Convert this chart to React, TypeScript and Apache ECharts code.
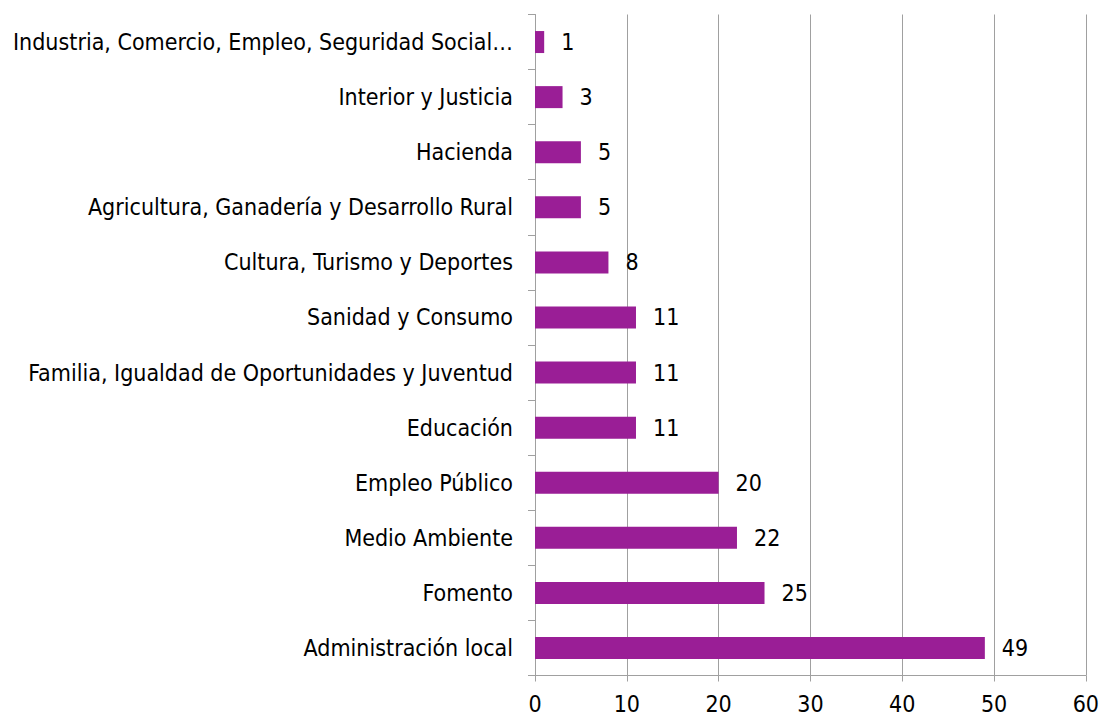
import React, { useEffect, useRef } from "react";
import * as echarts from "echarts";

const categories = [
  "Administración local",
  "Fomento",
  "Medio Ambiente",
  "Empleo Público",
  "Educación",
  "Familia, Igualdad de Oportunidades y Juventud",
  "Sanidad y Consumo",
  "Cultura, Turismo y Deportes",
  "Agricultura, Ganadería y Desarrollo Rural",
  "Hacienda",
  "Interior y Justicia",
  "Industria, Comercio, Empleo, Seguridad Social…",
];
const values = [49, 25, 22, 20, 11, 11, 11, 8, 5, 5, 3, 1];

const FONT = "DejaVu Sans Condensed";
const FS = 23;

export default function App() {
  const ref = useRef<HTMLDivElement>(null);
  useEffect(() => {
    const chart = echarts.init(ref.current!, null, { renderer: "svg" });
    chart.setOption({
      animation: false,
      grid: { left: 535, right: 16, top: 14.5, bottom: 42.5, containLabel: false },
      xAxis: {
        type: "value",
        min: 0,
        max: 60,
        interval: 10,
        axisLine: { show: true, lineStyle: { color: "#a0a0a0", width: 1 } },
        axisTick: { show: true, length: 6, lineStyle: { color: "#a0a0a0" } },
        splitLine: { show: true, lineStyle: { color: "#a0a0a0", width: 1 } },
        axisLabel: { color: "#000", fontFamily: FONT, fontSize: FS, margin: 17 },
      },
      yAxis: {
        type: "category",
        data: categories,
        axisLine: { show: true, lineStyle: { color: "#a0a0a0", width: 1 } },
        axisTick: { show: true, length: 7, alignWithLabel: false, lineStyle: { color: "#a0a0a0" } },
        axisLabel: { color: "#000", fontFamily: FONT, fontSize: FS, margin: 22 },
      },
      series: [
        {
          type: "bar",
          data: values,
          barWidth: 22,
          itemStyle: { color: "#9a1e96" },
          label: {
            show: true,
            position: "right",
            distance: 17,
            color: "#000",
            fontFamily: FONT,
            fontSize: FS,
          },
        },
      ],
    });
    return () => chart.dispose();
  }, []);
  return (
    <div
      ref={ref}
      style={{ position: "fixed", left: 0, top: 0, width: 1102, height: 718, background: "#fff" }}
    />
  );
}
